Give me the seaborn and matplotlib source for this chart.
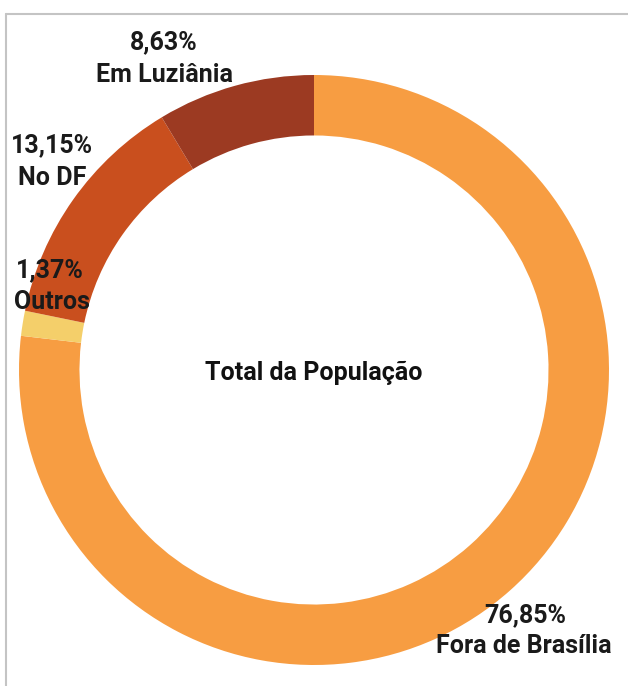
import matplotlib
matplotlib.use("Agg")
import matplotlib.pyplot as plt
import seaborn as sns
from matplotlib.lines import Line2D

# data (clockwise from 12 o'clock)
labels = ["Fora de Brasília", "Outros", "No DF", "Em Luziânia"]
values = [76.85, 1.37, 13.15, 8.63]
pct_text = ["76,85%", "1,37%", "13,15%", "8,63%"]
colors = ["#F79D42", "#F4CF6A", "#C94F1E", "#9C3A22"]
center_title = "Total da População"

sns.set_theme(style="white")
plt.rcParams["font.family"] = ["Roboto", "DejaVu Sans"]

W, H = 628, 686
fig = plt.figure(figsize=(W / 100, H / 100), dpi=100)

# donut axes: centre at (314, 370) px from top, radius 295 px
cx, cy, r = 314, 370, 295
ax = fig.add_axes([(cx - r) / W, (H - cy - r) / H, 2 * r / W, 2 * r / H])
ax.pie(values, colors=colors, startangle=90, counterclock=False,
       radius=1.0, wedgeprops=dict(width=0.205, linewidth=0))
ax.set_xlim(-1, 1)
ax.set_ylim(-1, 1)
ax.axis("off")

fs = 18
ax.text(0, -0.01, center_title, ha="center", va="center",
        fontsize=fs, fontweight="bold", color="#111111")

# outside labels, pixel positions (from top-left)
lab_pos = {
    "Fora de Brasília": ((525, 615), (524, 646)),
    "Outros": ((50, 270), (52, 302)),
    "No DF": ((52, 145), (52, 178)),
    "Em Luziânia": ((164, 42), (164, 75)),
}
for lab, pt in zip(labels, pct_text):
    (x1, y1), (x2, y2) = lab_pos[lab]
    fig.text(x1 / W, 1 - y1 / H, pt, ha="center", va="center",
             fontsize=fs, fontweight="bold", color="#1a1a1a")
    fig.text(x2 / W, 1 - y2 / H, lab, ha="center", va="center",
             fontsize=fs, fontweight="bold", color="#1a1a1a")

# light grey frame (top and left visible)
fig.add_artist(Line2D([6 / W, 6 / W], [0, 1 - 14 / H], transform=fig.transFigure,
                      color="#c4c4c4", lw=1.5))
fig.add_artist(Line2D([6 / W, 1], [1 - 14 / H, 1 - 14 / H], transform=fig.transFigure,
                      color="#c4c4c4", lw=1.5))

fig.savefig("out.png", dpi=100, facecolor="white")
